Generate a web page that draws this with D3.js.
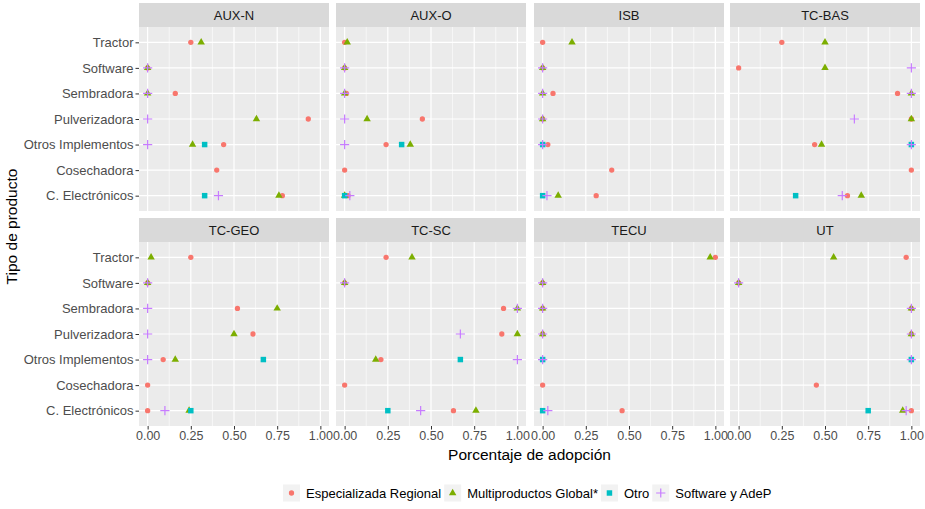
<!DOCTYPE html>
<html>
<head>
<meta charset="utf-8">
<script src="https://cdn.jsdelivr.net/npm/d3@7"></script>
<style>
  body { margin: 0; background: #ffffff; }
  svg { font-family: "Liberation Sans", Arial, sans-serif; }
  .tick text { fill: #4d4d4d; font-size: 13px; }
  .x .tick text { font-size: 12.5px; }
  .tick line { stroke: #333333; }
</style>
</head>
<body>
<svg width="925" height="509"></svg>
<script>
// **** Data ****
var panels = ['AUX-N', 'AUX-O', 'ISB', 'TC-BAS', 'TC-GEO', 'TC-SC', 'TECU', 'UT']
var categories = ['Tractor', 'Software', 'Sembradora', 'Pulverizadora', 'Otros Implementos', 'Cosechadora', 'C. Electrónicos']
var seriesNames = ['Especializada Regional', 'Multiproductos Global*', 'Otro', 'Software y AdeP']
var xTicks = [0, 0.25, 0.5, 0.75, 1]

// one row per panel, values in the order of categories (null = no point)
var especializada = [
    [0.25, 0, 0.16, 0.93, 0.44, 0.40, 0.78],
    [0, 0, 0.01, 0.45, 0.24, 0, 0.02],
    [0, 0, 0.06, 0, 0.03, 0.40, 0.31],
    [0.25, 0, 0.92, 1, 0.44, 1, 0.63],
    [0.25, 0, 0.52, 0.61, 0.09, 0, 0],
    [0.24, 0, 0.92, 0.91, 0.21, 0, 0.63],
    [1, 0, 0, 0, 0, 0, 0.46],
    [0.97, 0, 1, 1, 1, 0.45, 1]
]
var multiproductos = [
    [0.31, 0, 0, 0.63, 0.26, null, 0.76],
    [0.015, 0, 0, 0.13, 0.38, null, 0],
    [0.17, 0, 0, 0, null, null, 0.09],
    [0.5, 0.5, 1, 1, 0.48, null, 0.71],
    [0.02, 0, 0.75, 0.5, 0.16, null, 0.24],
    [0.39, 0, 1, 1, 0.18, null, 0.76],
    [0.97, 0, 0, 0, null, null, null],
    [0.55, 0, 1, 1, null, null, 0.95]
]
var otro = [
    [null, null, null, null, 0.33, null, 0.33],
    [null, null, null, null, 0.33, null, 0],
    [null, null, null, null, 0, null, 0],
    [null, null, null, null, 1, null, 0.33],
    [null, null, null, null, 0.67, null, 0.25],
    [null, null, null, null, 0.67, null, 0.25],
    [null, null, null, null, 0, null, 0],
    [null, null, null, null, 1, null, 0.75]
]
var softwareAdep = [
    [null, 0, 0, 0, 0, null, 0.41],
    [null, 0, 0, 0, 0, null, 0.03],
    [null, 0, 0, 0, 0, null, 0.025],
    [null, 1, 1, 0.67, 1, null, 0.6],
    [null, 0, 0, 0, 0, null, 0.1],
    [null, 0, 1, 0.67, 1, null, 0.44],
    [null, 0, 0, 0, 0, null, 0.03],
    [null, 0, 1, 1, 1, null, 0.97]
]

var seriesValues = [especializada, multiproductos, otro, softwareAdep]
var colors = ['#F8766D', '#7CAE00', '#00BFC4', '#C77CFF']
var shapes = ['circle', 'triangle', 'square', 'plus']

// **** Layout ****
var svg = d3.select('svg')
var colLeft = [139, 336, 534, 730]
var panelW = 190
var stripTop = [3, 218]
var stripH = 24
var panelH = 184

function symbolPath(shape) {
    if (shape === 'circle') return d3.symbol().type(d3.symbolCircle).size(22)()
    if (shape === 'triangle') return d3.symbol().type(d3.symbolTriangle).size(24)()
    if (shape === 'square') return d3.symbol().type(d3.symbolSquare).size(30)()
    return 'M-4.6,0H4.6M0,-4.6V4.6'
}

function drawMark(g, shape, color, x, y) {
    var p = g.append('path')
        .attr('d', symbolPath(shape))
        .attr('transform', 'translate(' + x + ',' + y + ')')
    if (shape === 'plus') {
        p.attr('fill', 'none').attr('stroke', color).attr('stroke-width', 1.2)
    } else {
        p.attr('fill', color)
    }
}

panels.forEach(function(name, pi) {
    var col = pi % 4
    var row = Math.floor(pi / 4)
    var left = colLeft[col]
    var top = stripTop[row] + stripH

    var x = d3.scaleLinear().domain([-0.05, 1.05]).range([left, left + panelW])
    var y = d3.scalePoint().domain(categories).range([top, top + panelH]).padding(0.6)

    // strip
    svg.append('rect')
        .attr('x', left).attr('y', stripTop[row])
        .attr('width', panelW).attr('height', stripH)
        .attr('fill', '#d9d9d9')
    svg.append('text')
        .attr('x', left + panelW / 2).attr('y', stripTop[row] + stripH / 2)
        .attr('dy', '0.35em')
        .attr('text-anchor', 'middle')
        .attr('font-size', 13)
        .attr('fill', '#1a1a1a')
        .text(name)

    // panel background and grid
    var g = svg.append('g')
    g.append('rect')
        .attr('x', left).attr('y', top)
        .attr('width', panelW).attr('height', panelH)
        .attr('fill', '#ebebeb')
    var minor = [0.125, 0.375, 0.625, 0.875]
    g.selectAll('.minor').data(minor).enter().append('line')
        .attr('x1', function(d) { return x(d) }).attr('x2', function(d) { return x(d) })
        .attr('y1', top).attr('y2', top + panelH)
        .attr('stroke', '#ffffff').attr('stroke-width', 0.6)
    g.selectAll('.majorx').data(xTicks).enter().append('line')
        .attr('x1', function(d) { return x(d) }).attr('x2', function(d) { return x(d) })
        .attr('y1', top).attr('y2', top + panelH)
        .attr('stroke', '#ffffff').attr('stroke-width', 1.2)
    g.selectAll('.majory').data(categories).enter().append('line')
        .attr('x1', left).attr('x2', left + panelW)
        .attr('y1', function(d) { return y(d) }).attr('y2', function(d) { return y(d) })
        .attr('stroke', '#ffffff').attr('stroke-width', 1.2)

    // points: circle, triangle, square, plus drawn in that order
    seriesValues.forEach(function(series, si) {
        series[pi].forEach(function(v, ci) {
            if (v === null) return
            drawMark(g, shapes[si], colors[si], x(v), y(categories[ci]))
        })
    })

    // axes
    if (row === 1) {
        var ax = svg.append('g').attr('class', 'x')
            .attr('transform', 'translate(0,' + (top + panelH) + ')')
            .call(d3.axisBottom(x).tickValues(xTicks).tickSize(3.5).tickPadding(2).tickFormat(d3.format('.2f')))
        ax.select('.domain').remove()
    }
    if (col === 0) {
        var ay = svg.append('g')
            .attr('transform', 'translate(' + left + ',0)')
            .call(d3.axisLeft(y).tickSize(3.5).tickPadding(2))
        ay.select('.domain').remove()
    }
})

// **** Axis titles ****
svg.append('text')
    .attr('x', (colLeft[0] + colLeft[3] + panelW) / 2).attr('y', 460)
    .attr('text-anchor', 'middle')
    .attr('font-size', 15.5)
    .attr('fill', '#000000')
    .text('Porcentaje de adopción')

svg.append('text')
    .attr('transform', 'translate(17,' + (stripTop[0] + stripH + stripTop[1] + stripH + panelH) / 2 + ') rotate(-90)')
    .attr('text-anchor', 'middle')
    .attr('font-size', 15.5)
    .attr('fill', '#000000')
    .text('Tipo de producto')

// **** Legend ****
var legend = svg.append('g')
var lx = 283
var ly = 493
seriesNames.forEach(function(name, si) {
    legend.append('rect')
        .attr('x', lx).attr('y', ly - 8.5)
        .attr('width', 17).attr('height', 17)
        .attr('fill', '#f2f2f2')
    drawMark(legend, shapes[si], colors[si], lx + 8.5, ly)
    var t = legend.append('text')
        .attr('x', lx + 23).attr('y', ly)
        .attr('dy', '0.35em')
        .attr('font-size', 13)
        .attr('fill', '#000000')
        .text(name)
    lx = lx + 23 + t.node().getComputedTextLength() + 3
})
</script>
</body>
</html>
